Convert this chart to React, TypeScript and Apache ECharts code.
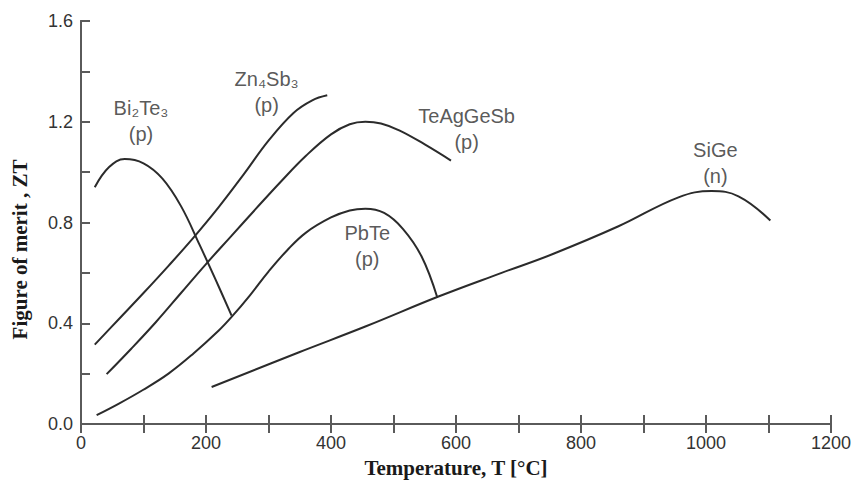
import React, { useEffect, useRef } from "react";
import * as echarts from "echarts";

// Temperature (°C) and ZT values
const bi2te3T = [22, 45, 70, 100, 130, 160, 190, 215, 241];
const bi2te3ZT = [0.94, 1.02, 1.052, 1.035, 0.975, 0.865, 0.71, 0.575, 0.43];

const zn4sb3T = [22, 60, 100, 140, 180, 220, 260, 300, 340, 370, 394];
const zn4sb3ZT = [0.315, 0.415, 0.52, 0.628, 0.74, 0.86, 0.99, 1.125, 1.235, 1.285, 1.305];

const teagT = [41, 80, 120, 160, 200, 240, 280, 320, 360, 400, 430, 455, 480, 510, 550, 592];
const teagZT = [0.198, 0.298, 0.405, 0.52, 0.635, 0.745, 0.855, 0.963, 1.065, 1.15, 1.19, 1.2, 1.193, 1.165, 1.11, 1.046];

const pbteT = [25, 60, 99, 140, 180, 220, 241, 270, 300, 330, 360, 400, 430, 455, 485, 515, 545, 570];
const pbteZT = [0.035, 0.08, 0.135, 0.2, 0.28, 0.37, 0.425, 0.51, 0.605, 0.69, 0.76, 0.82, 0.848, 0.855, 0.838, 0.775, 0.665, 0.503];

const sigeT = [209, 349, 456, 573, 673, 753, 860, 956, 1009, 1052, 1103];
const sigeZT = [0.147, 0.285, 0.388, 0.507, 0.6, 0.673, 0.785, 0.9, 0.925, 0.904, 0.808];

// annotation labels (material, type) and their anchor in data coords
const labelText = ["Bi₂Te₃\n(p)", "Zn₄Sb₃\n(p)", "TeAgGeSb\n(p)", "PbTe\n(p)", "SiGe\n(n)"];
const labelX = [96, 297, 617, 458, 1015];
const labelY = [1.204, 1.317, 1.17, 0.707, 1.038];

const xTicks = { min: 0, max: 1200, interval: 100 };
const yTicks = { min: 0, max: 1.6, interval: 0.2 };

const zip = (xs: number[], ys: number[]) => xs.map((x, i) => [x, ys[i]]);

export default function App() {
  const ref = useRef<HTMLDivElement>(null);
  useEffect(() => {
    document.body.style.margin = "0";
    const chart = echarts.init(ref.current!, null, { renderer: "svg" });
    const axisColor = "#5a5a5a";
    const curveColor = "#2b2b2b";
    const lineSeries = (name: string, xs: number[], ys: number[]) => ({
      name,
      type: "line",
      data: zip(xs, ys),
      smooth: 0.4,
      showSymbol: false,
      symbol: "none",
      lineStyle: { color: curveColor, width: 2 },
      z: 3,
    });
    chart.setOption({
      animation: false,
      backgroundColor: "#ffffff",
      grid: { left: 81, right: 21, top: 21, bottom: 58 },
      xAxis: [
        {
          type: "value",
          position: "bottom",
          ...xTicks,
          name: "Temperature, T [°C]",
          nameLocation: "middle",
          nameGap: 33,
          nameTextStyle: {
            fontFamily: "Liberation Serif",
            fontWeight: "bold",
            fontSize: 21,
            color: "#1a1a1a",
          },
          axisLine: { show: true, lineStyle: { color: axisColor, width: 2 } },
          axisTick: { show: true, inside: true, length: 9, lineStyle: { color: axisColor, width: 2 } },
          axisLabel: {
            margin: 10,
            fontFamily: "Liberation Sans",
            fontSize: 18,
            color: "#333333",
            formatter: (v: number) => (v % 200 === 0 ? String(v) : ""),
          },
          splitLine: { show: false },
        },
        {
          type: "value",
          position: "top",
          ...xTicks,
          axisLine: { show: true, lineStyle: { color: axisColor, width: 2 } },
          axisTick: { show: true, inside: true, length: 9, lineStyle: { color: axisColor, width: 2 } },
          axisLabel: { show: false },
          splitLine: { show: false },
        },
      ],
      yAxis: [
        {
          type: "value",
          position: "left",
          ...yTicks,
          name: "Figure of merit , ZT",
          nameLocation: "middle",
          nameGap: 51,
          nameTextStyle: {
            fontFamily: "Liberation Serif",
            fontWeight: "bold",
            fontSize: 21,
            color: "#1a1a1a",
            padding: [0, 54, 0, 0],
          },
          axisLine: { show: true, lineStyle: { color: axisColor, width: 2 } },
          axisTick: { show: true, inside: true, length: 9, lineStyle: { color: axisColor, width: 2 } },
          axisLabel: {
            margin: 8,
            fontFamily: "Liberation Sans",
            fontSize: 18,
            color: "#333333",
            formatter: (v: number) =>
              Math.abs(Math.round(v * 10) % 4) === 0 ? v.toFixed(1) : "",
          },
          splitLine: { show: false },
        },
        {
          type: "value",
          position: "right",
          ...yTicks,
          axisLine: { show: true, lineStyle: { color: axisColor, width: 2 } },
          axisTick: { show: false },
          axisLabel: { show: false },
          splitLine: { show: false },
        },
      ],
      series: [
        lineSeries("Bi2Te3", bi2te3T, bi2te3ZT),
        lineSeries("Zn4Sb3", zn4sb3T, zn4sb3ZT),
        lineSeries("TeAgGeSb", teagT, teagZT),
        lineSeries("PbTe", pbteT, pbteZT),
        lineSeries("SiGe", sigeT, sigeZT),
        {
          name: "labels",
          type: "scatter",
          data: labelText.map((t, i) => [labelX[i], labelY[i], t]),
          symbolSize: 1,
          itemStyle: { color: "rgba(0,0,0,0)" },
          label: {
            show: true,
            position: "inside",
            formatter: (p: any) => p.data[2],
            fontFamily: "Liberation Sans",
            fontSize: 20,
            lineHeight: 26,
            color: "#2e2e2e",
            align: "center",
            verticalAlign: "middle",
          },
          z: 4,
        },
      ],
    });
    return () => chart.dispose();
  }, []);
  return <div ref={ref} style={{ width: 854, height: 483 }} />;
}
